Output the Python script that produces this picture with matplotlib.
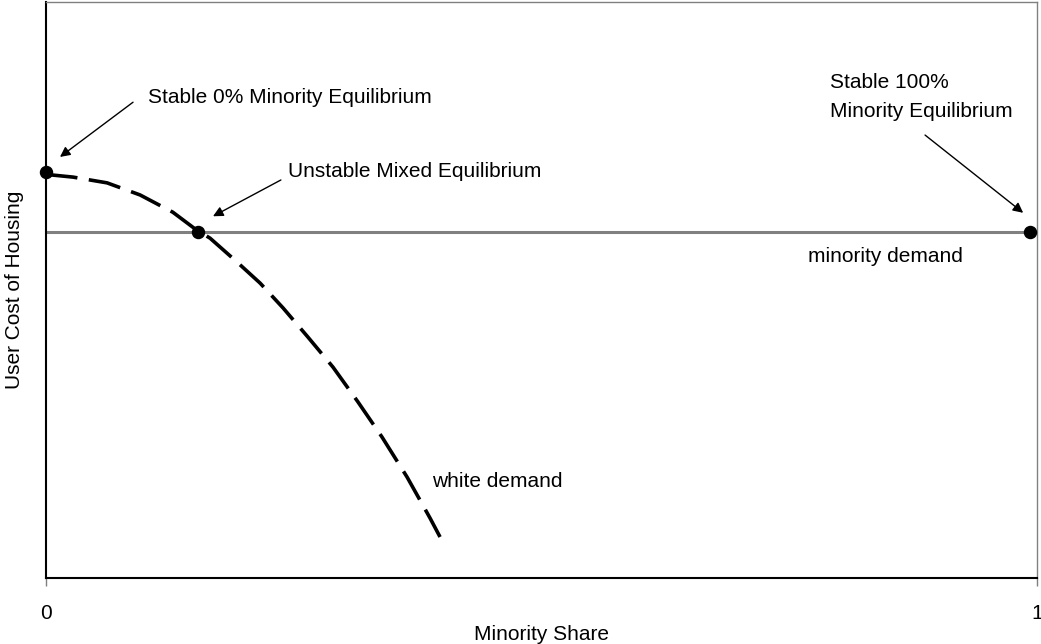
import matplotlib
matplotlib.use("Agg")
import matplotlib.pyplot as plt

# white demand curve (minority share, user cost)
white_x = [0.0, 0.004, 0.0272, 0.0616, 0.0949, 0.128, 0.152, 0.1655, 0.1927,
           0.216, 0.2391, 0.2644, 0.2896, 0.3148, 0.339, 0.3643, 0.3875, 0.3976]
white_y = [0.705, 0.700, 0.696, 0.686, 0.665, 0.635, 0.604, 0.590, 0.5486,
           0.512, 0.469, 0.418, 0.366, 0.3056, 0.2448, 0.1753, 0.104, 0.0712]

# minority demand is flat
minority_x = [0.0, 1.0]
minority_y = [0.601, 0.601]

# equilibrium points
eq_x = [0.0, 0.153, 0.993]
eq_y = [0.705, 0.601, 0.601]

plt.rcParams['font.family'] = ['Liberation Sans', 'DejaVu Sans']

fig = plt.figure(figsize=(10.41, 6.44), dpi=100)
ax = fig.add_axes([0.0442, 0.1025, 0.952, 0.8944])

ax.plot(minority_x, minority_y, color='#808080', lw=2.2, solid_capstyle='butt')
ax.plot(white_x, white_y, color='black', lw=2.6, dashes=(9, 3.2))
ax.scatter(eq_x, eq_y, s=75, color='black', zorder=5, clip_on=False)

fs = 15
arrow = dict(arrowstyle='-|>', color='black', lw=1, mutation_scale=15, shrinkA=0, shrinkB=0)

ax.text(0.103, 0.835, 'Stable 0% Minority Equilibrium', fontsize=fs, va='center')
ax.annotate('', xy=(0.0141, 0.731), xytext=(0.0878, 0.826), arrowprops=arrow)

ax.text(0.244, 0.705, 'Unstable Mixed Equilibrium', fontsize=fs, va='center')
ax.annotate('', xy=(0.1685, 0.628), xytext=(0.237, 0.691), arrowprops=arrow)

ax.text(0.791, 0.835, 'Stable 100%\nMinority Equilibrium', fontsize=fs, va='center', linespacing=1.65)
ax.annotate('', xy=(0.986, 0.634), xytext=(0.887, 0.769), arrowprops=arrow)

ax.text(0.769, 0.559, 'minority demand', fontsize=fs, va='center')
ax.text(0.3895, 0.1667, 'white demand', fontsize=fs, va='center')

ax.set_xlim(0, 1)
ax.set_ylim(0, 1)
ax.set_xticks([0, 1])
ax.set_xticklabels(['0', '1'], fontsize=fs)
ax.set_yticks([])
ax.tick_params(axis='x', length=6, width=1, color='#808080', pad=13)
ax.set_xlabel('Minority Share', fontsize=fs, labelpad=1)
ax.set_ylabel('User Cost of Housing', fontsize=fs, labelpad=16)

for side in ['left', 'bottom']:
    ax.spines[side].set_color('black')
    ax.spines[side].set_linewidth(1.5)
for side in ['top', 'right']:
    ax.spines[side].set_color('#808080')
    ax.spines[side].set_linewidth(1)

fig.savefig('out.png', dpi=100)
